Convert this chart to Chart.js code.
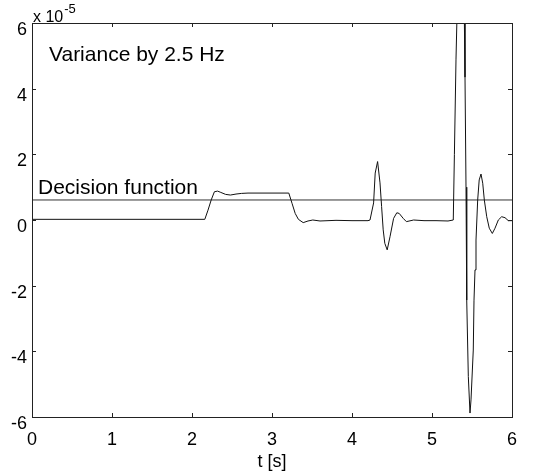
<!DOCTYPE html>
<html>
<head>
<meta charset="utf-8">
<script src="https://cdn.jsdelivr.net/npm/chart.js@4/dist/chart.umd.min.js"></script>
<style>
  body { margin: 0; background: #fff; }
  canvas { display: block; }
</style>
</head>
<body>
<canvas id="variance" width="545" height="473"></canvas>
<script>
// variance trace, values in units of 1e-5
const tTrace = [0, 0.5, 1.0, 1.5, 2.0, 2.16, 2.2, 2.24, 2.28, 2.32, 2.36, 2.42, 2.48, 2.55, 2.62, 2.7, 2.9, 3.1, 3.21,
  3.25, 3.29, 3.33, 3.39, 3.45, 3.51, 3.6, 3.8, 4.0, 4.2, 4.225, 4.27, 4.29, 4.32, 4.35, 4.37, 4.39, 4.41, 4.44,
  4.475, 4.52, 4.56, 4.59, 4.64, 4.68, 4.77, 4.9, 5.05, 5.2, 5.266, 5.28, 5.30, 5.3125, 5.355, 5.404, 5.4125,
  5.425, 5.434, 5.454, 5.475, 5.4875, 5.516, 5.525, 5.5375, 5.55, 5.571, 5.59, 5.6125, 5.634, 5.654, 5.684,
  5.716, 5.754, 5.7875, 5.829, 5.871, 5.9125, 5.954, 6.0]
const vTrace = [0.02, 0.02, 0.02, 0.02, 0.02, 0.02, 0.3, 0.61, 0.86, 0.88, 0.84, 0.78, 0.76, 0.79, 0.81, 0.82, 0.82, 0.82, 0.82,
  0.51, 0.2, 0.02, -0.08, -0.03, 0.0, -0.03, -0.01, -0.02, -0.02, 0.0, 0.52, 1.43, 1.78, 1.13, 0.41, -0.3, -0.71, -0.91,
  -0.51, 0.05, 0.22, 0.2, 0.05, -0.05, 0.0, -0.02, -0.02, -0.03, 0.0, 2.0, 4.9, 6.2, 8.5, 6.2, 4.35,
  1.0, -2.44, -4.77, -5.88, -5.48, -3.96, -2.44, -1.52, -0.61, 0.61, 1.22, 1.4, 1.12, 0.61, 0.1,
  -0.25, -0.41, -0.25, 0.0, 0.1, 0.07, -0.02, -0.02]

// decision threshold
const tDecision = [0, 6]
const vDecision = [0.61, 0.61]

const xTicks = [0, 1, 2, 3, 4, 5, 6]
const yTicks = [-6, -4, -2, 0, 2, 4, 6]

const FONT = '"Liberation Sans", Arial, sans-serif'

const toPoints = (xs, ys) => xs.map((x, i) => ({ x: x, y: ys[i] }))

// matlab-style box with inward ticks + text annotations
const matlabBox = {
  id: 'matlabBox',
  afterDraw(chart) {
    const ctx = chart.ctx
    const a = chart.chartArea
    const sx = chart.scales.x
    const sy = chart.scales.y
    const len = 4
    ctx.save()
    ctx.strokeStyle = '#222'
    ctx.lineWidth = 1
    ctx.strokeRect(a.left + 0.5, a.top + 0.5, a.right - a.left, a.bottom - a.top)
    ctx.beginPath()
    xTicks.forEach(v => {
      const px = Math.round(sx.getPixelForValue(v)) + 0.5
      ctx.moveTo(px, a.bottom); ctx.lineTo(px, a.bottom - len)
      ctx.moveTo(px, a.top); ctx.lineTo(px, a.top + len)
    })
    yTicks.forEach(v => {
      const py = Math.round(sy.getPixelForValue(v)) + 0.5
      ctx.moveTo(a.left, py); ctx.lineTo(a.left + len, py)
      ctx.moveTo(a.right, py); ctx.lineTo(a.right - len, py)
    })
    ctx.stroke()

    ctx.fillStyle = '#000'
    ctx.textBaseline = 'alphabetic'
    ctx.textAlign = 'left'
    ctx.font = '21px ' + FONT
    ctx.fillText('Variance by 2.5 Hz', 49, 61)
    ctx.fillText('Decision function', 38, 194)
    // exponent label
    ctx.font = '16px ' + FONT
    ctx.fillText('x 10', 33, 22)
    const w = ctx.measureText('x 10').width
    ctx.font = '13px ' + FONT
    ctx.fillText('-5', 33 + w + 1, 13)
    ctx.restore()
  }
}

const config = {
  type: 'scatter',
  data: {
    datasets: [
      {
        data: toPoints(tTrace, vTrace),
        showLine: true,
        borderColor: '#111',
        borderWidth: 1,
        pointRadius: 0,
        tension: 0,
      },
      {
        data: toPoints(tDecision, vDecision),
        showLine: true,
        borderColor: '#333',
        borderWidth: 1,
        pointRadius: 0,
      },
    ],
  },
  options: {
    responsive: false,
    animation: false,
    layout: { padding: { top: 23, right: 33, left: 0, bottom: 0 } },
    plugins: {
      legend: { display: false },
      tooltip: { enabled: false },
    },
    scales: {
      x: {
        type: 'linear',
        min: 0,
        max: 6,
        afterBuildTicks: s => { s.ticks = xTicks.map(v => ({ value: v })) },
        afterFit: s => { s.height = 56 },
        grid: { display: false, drawTicks: false },
        border: { display: false },
        ticks: { color: '#000', font: { family: FONT, size: 18 }, padding: 12, maxRotation: 0 },
        title: {
          display: true,
          text: 't [s]',
          color: '#000',
          font: { family: FONT, size: 18 },
          padding: { top: 0, bottom: 0 },
        },
      },
      y: {
        type: 'linear',
        min: -6,
        max: 6,
        afterBuildTicks: s => { s.ticks = yTicks.map(v => ({ value: v })) },
        afterFit: s => { s.width = 32 },
        grid: { display: false, drawTicks: false },
        border: { display: false },
        ticks: { color: '#000', font: { family: FONT, size: 18 }, padding: 5, labelOffset: 7 },
      },
    },
  },
  plugins: [matlabBox],
}

new Chart(document.getElementById('variance'), config)
</script>
</body>
</html>
